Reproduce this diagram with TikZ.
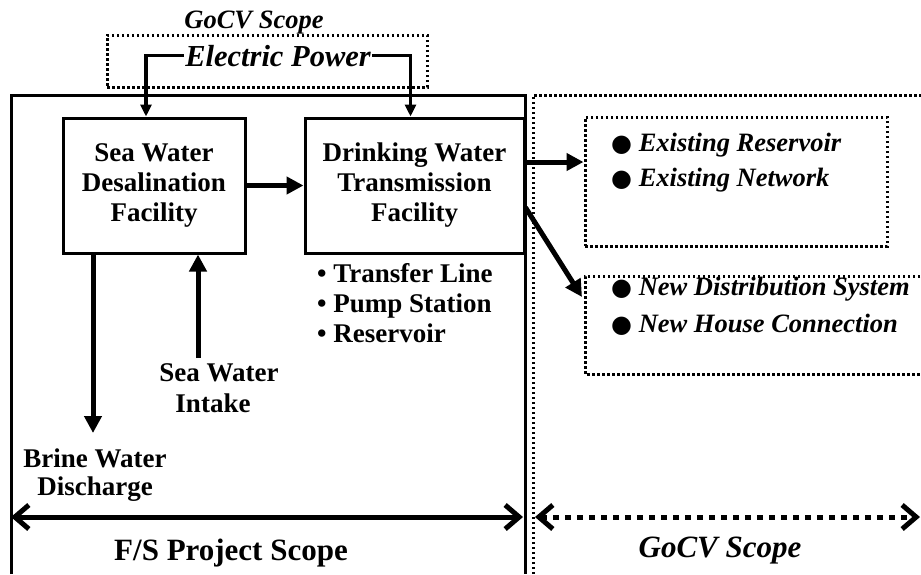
\documentclass[tikz,border=0pt]{standalone}
\usepackage{fontspec}
\setmainfont{Liberation Serif}
\newfontfamily\symfont{DejaVu Sans}
\usetikzlibrary{arrows.meta}
\newcommand{\bigdot}{{\symfont\upshape\fontsize{24}{24}\selectfont ●}}
\begin{document}
\begin{tikzpicture}[x=1pt,y=-1pt,
  lbl/.style={font=\bfseries\fontsize{27}{30}\selectfont, inner sep=0pt},
  ilbl/.style={font=\bfseries\itshape\fontsize{26.5}{30}\selectfont, inner sep=0pt},
  facility/.style={draw, line width=3pt, align=center, inner sep=0pt,
    font=\bfseries\fontsize{27}{30}\selectfont},
  dotbox/.style={draw, line width=3pt, dash pattern=on 2.5pt off 2.5pt},
  fsline/.style={line width=3pt},
  flow/.style={line width=5pt, -{Triangle[length=17pt,width=17pt]}},
  power/.style={line width=3.5pt, -{Triangle[length=12pt,width=11pt]}},
  span/.style={line width=5pt, {Straight Barb[length=14pt,width=24pt]}-{Straight Barb[length=14pt,width=24pt]}},
  dspan/.style={span, dash pattern=on 6pt off 6pt}
]
\useasboundingbox (0,0) rectangle (921,574);

% scope frames
\draw[fsline] (11,574) -- (11,95) -- (525,95) -- (525,574);
\draw[dotbox] (533,574) -- (533,95) -- (921,95);

% top GoCV box with electric power
\node[dotbox, minimum width=320pt, minimum height=52pt, inner sep=0pt] (gocvtop) at (267,61) {};
\node[ilbl, anchor=base] (gocvtoplbl) at (254,28) {GoCV Scope};
\node[font=\bfseries\itshape\fontsize{30.5}{32}\selectfont, inner xsep=1.5pt, inner ysep=0pt, anchor=base] (ep) at (278,66) {Electric Power};

% facilities
\node[facility, minimum width=182pt, minimum height=135pt] (sea) at (154,185.5)
  {Sea Water\\Desalination\\Facility};
\node[facility, minimum width=219pt, minimum height=135pt] (drink) at (414.5,185.5)
  {Drinking Water\\Transmission\\Facility};

\draw[power] (ep.west) -| ([xshift=-8pt]sea.north);
\draw[power] (ep.east) -| ([xshift=-4pt]drink.north);
\draw[flow] (sea.east) -- (drink.west);

% drinking items
\node[lbl, anchor=base west] (it1) at (317,282) {\textbullet\ Transfer Line};
\node[lbl, anchor=base west] (it2) at (317,312) {\textbullet\ Pump Station};
\node[lbl, anchor=base west] (it3) at (317,342) {\textbullet\ Reservoir};

% intake and brine
\node[lbl, anchor=base] (in1) at (219,381) {Sea Water};
\node[lbl, anchor=base] (in2) at (213,412) {Intake};
\coordinate (inTop) at (198,358);
\draw[flow] (inTop) -- (inTop |- sea.south);

\node[lbl, anchor=base] (br1) at (95,467) {Brine Water};
\node[lbl, anchor=base] (br2) at (95,495) {Discharge};
\coordinate (brTip) at (93,433);
\draw[flow] (brTip |- sea.south) -- (brTip);

% GoCV boxes
\node[dotbox, minimum width=302pt, minimum height=129pt, inner sep=0pt] (exbox) at (736,181.5) {};
\node[ilbl, anchor=base west] (ex1) at (611,151) {\bigdot\ Existing Reservoir};
\node[ilbl, anchor=base west] (ex2) at (611,186) {\bigdot\ Existing Network};

\coordinate (nbNW) at (585,276);
\coordinate (nbSW) at (585,374);
\draw[dotbox] (930,276) -- (nbNW) -- (nbSW) -- (930,374);
\node[ilbl, anchor=base west] (nb1) at (611,295) {\bigdot\ New Distribution System};
\node[ilbl, anchor=base west] (nb2) at (611,332) {\bigdot\ New House Connection};

\coordinate (d2e) at ([yshift=23.5pt]drink.east);
\draw[flow] (d2e) -- (d2e -| exbox.west);
\coordinate (d2n) at ([yshift=-22pt]drink.east);
\coordinate (nbTip) at (582,297);
\draw[flow] (d2n) -- (nbTip);

% scope spans
\coordinate (fsL) at (11,517);
\coordinate (fsR) at (523,517);
\draw[span] (fsL) -- (fsR);
\node[font=\bfseries\fontsize{31}{34}\selectfont, inner sep=0pt, anchor=base] (fslbl) at (231,560) {F/S Project Scope};

\coordinate (gcL) at (535,517);
\coordinate (gcR) at (920,517);
\draw[dspan] (gcL) -- (gcR);
\node[font=\bfseries\itshape\fontsize{31}{34}\selectfont, inner sep=0pt, anchor=base] (gclbl) at (720,557) {GoCV Scope};
\end{tikzpicture}
\end{document}
